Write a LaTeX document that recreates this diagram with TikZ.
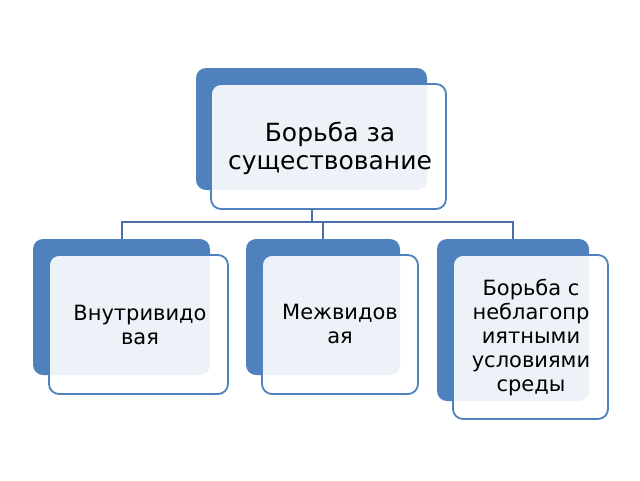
\documentclass[tikz,border=0pt]{standalone}
\usepackage{fontspec}
\setmainfont{DejaVu Sans}
\begin{document}
\begin{tikzpicture}[x=1pt,y=-1pt,
  back/.style={fill=blue1,rounded corners=10pt},
  front/.style={draw=blue1,line width=1.8pt,fill=white,fill opacity=0.9,draw opacity=1,rounded corners=10pt},
  conn/.style={draw=line1,line width=1.4pt},
  lbl/.style={align=center,text=black}]
\definecolor{blue1}{HTML}{4F81BD}
\definecolor{line1}{HTML}{4A6FA5}
\useasboundingbox (0,0) rectangle (640,480);
% top
\fill[back] (196,68) rectangle (427,190);
\draw[front] (211,84) rectangle (446,209);
\node[lbl,font=\fontsize{25}{28}\selectfont] (top) at (330,148) {Борьба за\\существование};
\coordinate (tb) at (312,209);
% children
\fill[back] (33,239) rectangle (210,375);
\draw[front] (49,255) rectangle (228,394);
\node[lbl,font=\fontsize{21}{24}\selectfont] (a) at (140,325) {Внутривидо\\вая};
\fill[back] (246,239) rectangle (400,375);
\draw[front] (262,255) rectangle (418,394);
\node[lbl,font=\fontsize{21}{24}\selectfont] (b) at (340,324) {Межвидов\\ая};
\fill[back] (437,239) rectangle (589,401);
\draw[front] (453,255) rectangle (608,419);
\node[lbl,font=\fontsize{21}{24}\selectfont] (c) at (531,338) {Борьба с\\неблагопр\\иятными\\условиями\\среды};
\coordinate (ta) at (122,239);
\coordinate (tbb) at (323,239);
\coordinate (tc) at (513,239);
\coordinate (j) at (312,222);
\draw[conn] (tb) -- (j);
\draw[conn] (j) -| (ta);
\draw[conn] (j) -| (tc);
\draw[conn] (j) -| (tbb);
\end{tikzpicture}
\end{document}
